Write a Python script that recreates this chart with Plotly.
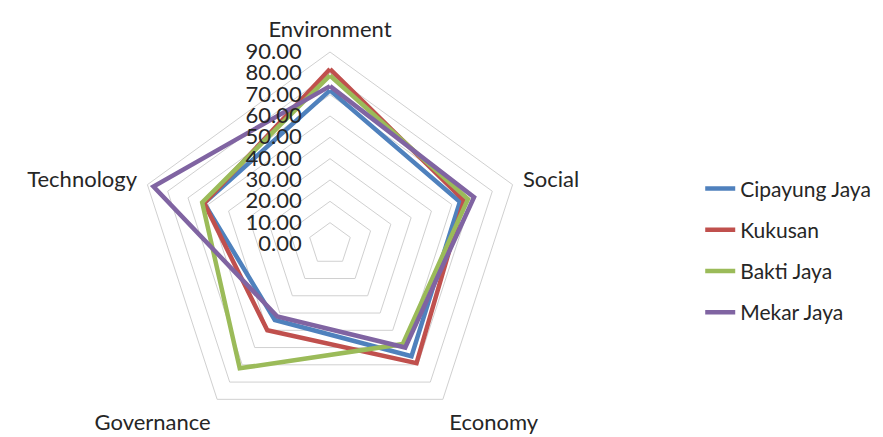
import plotly.graph_objects as go

categories = ["Environment", "Social", "Economy", "Governance", "Technology"]
series_names = ["Cipayung Jaya", "Kukusan", "Bakti Jaya", "Mekar Jaya"]
cipayung_jaya = [72, 64, 65, 44, 62]
kukusan = [82, 66, 69, 50, 62]
bakti_jaya = [79, 68, 58, 72, 63]
mekar_jaya = [74, 71, 60, 42, 87]
tick_values = [0, 10, 20, 30, 40, 50, 60, 70, 80, 90]

series_values = [cipayung_jaya, kukusan, bakti_jaya, mekar_jaya]
colors = ["#4F81BD", "#C0504D", "#9BBB59", "#8064A2"]

FONT = "Lato, 'Open Sans', sans-serif"
W, H = 883, 437
cx, cy, R = 330, 244, 192  # centre & radius in px

fig = go.Figure()
for name, vals, col in zip(series_names, series_values, colors):
    fig.add_trace(go.Scatterpolar(
        r=vals + vals[:1],
        theta=categories + categories[:1],
        mode="lines",
        name=name,
        legendgroup=name,
        line=dict(color=col, width=4.5),
    ))

fig.update_layout(
    width=W, height=H,
    template="none",
    paper_bgcolor="white",
    margin=dict(l=0, r=0, t=0, b=0),
    font=dict(family=FONT, size=22, color="#262626"),
    polar=dict(
        domain=dict(x=[(cx - R) / W, (cx + R) / W], y=[(H - cy - R) / H, (H - cy + R) / H]),
        bgcolor="white",
        gridshape="linear",
        radialaxis=dict(
            range=[0, 90],
            tickvals=tick_values,
            tickformat=".2f",
            angle=90,
            tickangle=90,
            side="counterclockwise",
            showline=False,
            ticks="outside",
            ticklen=20,
            tickcolor="rgba(0,0,0,0)",
            showgrid=True,
            gridcolor="#D0D0D0",
            gridwidth=1,
            tickfont=dict(family=FONT, size=22, color="#262626"),
        ),
        angularaxis=dict(
            categoryarray=categories,
            categoryorder="array",
            direction="clockwise",
            rotation=90,
            showgrid=False,
            showline=True,
            linecolor="#D0D0D0",
            linewidth=1,
            ticks="outside",
            ticklen=6,
            tickcolor="rgba(0,0,0,0)",
            tickfont=dict(family=FONT, size=22, color="#262626"),
        ),
    ),
    legend=dict(
        x=0.793, y=0.615, xanchor="left", yanchor="top",
        font=dict(family=FONT, size=21, color="#262626"),
        tracegroupgap=11,
        traceorder="grouped",
        bgcolor="rgba(0,0,0,0)",
    ),
    showlegend=True,
)

fig.write_html("out.html")
